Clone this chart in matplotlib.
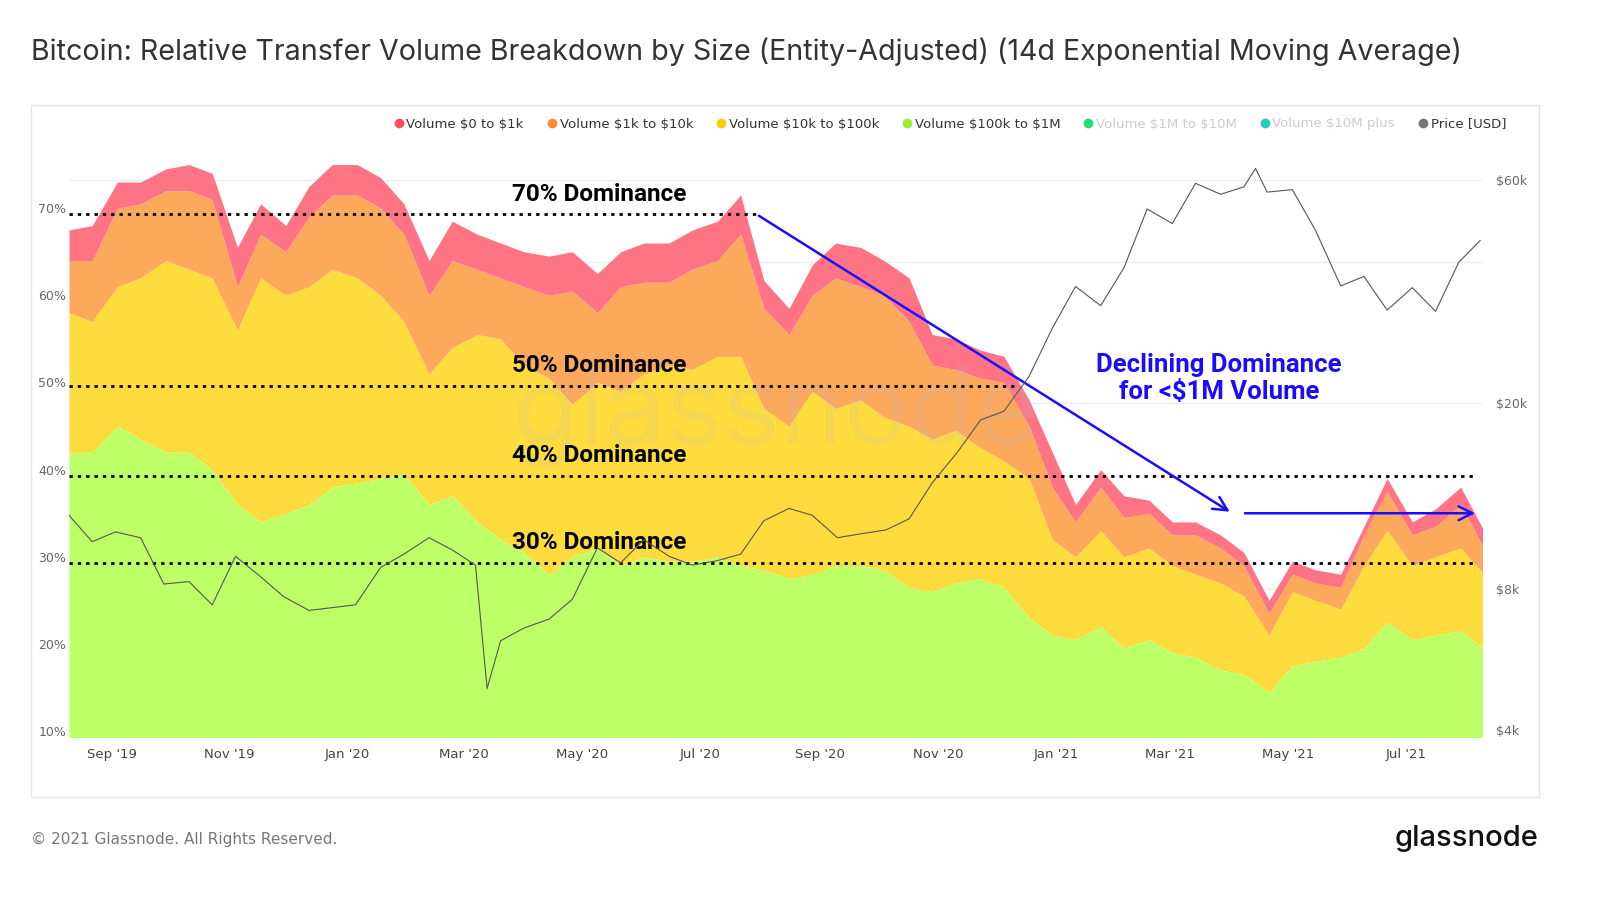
import numpy as np
import pandas as pd
import matplotlib.pyplot as plt
import matplotlib.dates as mdates
from matplotlib.lines import Line2D
from matplotlib.patches import Rectangle

# sample dates (about every 12.4 days)
start = pd.Timestamp('2019-08-10')
dates = [start + pd.Timedelta(days=round(12.39 * i)) for i in range(60)]

# cumulative tops of the stacked areas, in percent
green_top = [42, 42, 45, 43.5, 42, 42, 40, 36, 34, 35, 36, 38, 38.5, 39, 39.5, 36, 37, 34, 32, 30.5,
             28, 30, 31, 29, 30, 29.5, 29.5, 30, 29, 28.5, 27.5, 28, 29, 29, 28.5, 26.5, 26, 27, 27.5, 26.5,
             23, 21, 20.5, 22, 19.5, 20.5, 19, 18.5, 17, 16.5, 14.5, 17.5, 18, 18.5, 19.5, 22.5, 20.5, 21, 21.5, 19.5]
yellow_top = [58, 57, 61, 62, 64, 63, 62, 56, 62, 60, 61, 63, 62, 60, 57, 51, 54, 55.5, 55, 52,
              50.5, 47.5, 50, 49, 51, 52, 51.5, 53, 53, 47, 45, 49, 47, 48, 46, 45, 43.5, 44.5, 42.5, 41,
              39, 32, 30, 33, 30, 31, 29, 28, 27, 25.5, 21, 26, 25, 24, 29, 33, 29, 30, 31, 28]
orange_top = [64, 64, 70, 70.5, 72, 72, 71, 61, 67, 65, 69, 71.5, 71.5, 70, 67, 60, 64, 63, 62, 61,
              60, 60.5, 58, 61, 61.5, 61.5, 63, 64, 67, 58.5, 55.5, 60, 62, 61, 60, 57, 52, 51.5, 50.5, 50,
              45, 38, 34, 38, 34.5, 35, 32.5, 32.5, 31, 29, 23.5, 28, 27, 26.5, 32.5, 37.5, 32.5, 33.5, 36, 31]
red_top = [67.5, 68, 73, 73, 74.5, 75, 74, 65.5, 70.5, 68, 72.5, 75, 75, 73.5, 70.5, 64, 68.5, 67, 66, 65,
           64.5, 65, 62.5, 65, 66, 66, 67.5, 68.5, 71.5, 61.7, 58.5, 63.5, 66, 65.5, 64, 62, 55.5, 55, 53.7, 53,
           48, 42, 36, 40, 37, 36.5, 34, 34, 32.5, 30.5, 25, 29.5, 28.5, 28, 33.5, 39, 34, 35.5, 38, 33]

price_dates = pd.to_datetime([
    '2019-08-10', '2019-08-22', '2019-09-03', '2019-09-16', '2019-09-28', '2019-10-11', '2019-10-23',
    '2019-11-04', '2019-11-17', '2019-11-29', '2019-12-12', '2019-12-24', '2020-01-05', '2020-01-18',
    '2020-01-30', '2020-02-12', '2020-02-24', '2020-03-07', '2020-03-13', '2020-03-20', '2020-04-01',
    '2020-04-14', '2020-04-26', '2020-05-09', '2020-05-21', '2020-06-02', '2020-06-15', '2020-06-27',
    '2020-07-10', '2020-07-22', '2020-08-03', '2020-08-16', '2020-08-28', '2020-09-10', '2020-09-22',
    '2020-10-05', '2020-10-17', '2020-10-29', '2020-11-11', '2020-11-23', '2020-12-05', '2020-12-18',
    '2020-12-30', '2021-01-11', '2021-01-24', '2021-02-05', '2021-02-17', '2021-03-02', '2021-03-14',
    '2021-03-27', '2021-04-08', '2021-04-14', '2021-04-20', '2021-05-03', '2021-05-15', '2021-05-28',
    '2021-06-09', '2021-06-21', '2021-07-04', '2021-07-16', '2021-07-28', '2021-08-08'])
price = [11500, 10100, 10600, 10300, 8200, 8300, 7400, 9400, 8500, 7700, 7200, 7300, 7400, 8900,
         9500, 10300, 9700, 9000, 4900, 6200, 6600, 6900, 7600, 9800, 9100, 10200, 9400, 9000,
         9200, 9500, 11200, 11900, 11500, 10300, 10500, 10700, 11300, 13500, 15700, 18400, 19200, 22800,
         28900, 35500, 32300, 38900, 52000, 48400, 59000, 55900, 58000, 63500, 56500, 57200, 46800, 35600,
         37300, 31600, 35300, 31400, 40000, 44500]

bands = [
    (np.zeros(60), green_top, '#bdff66'),
    (green_top, yellow_top, '#ffdc3d'),
    (yellow_top, orange_top, '#fca95c'),
    (orange_top, red_top, '#ff7485'),
]


def px2date(px):
    return start + pd.Timedelta(days=(px - 69) / 1.937)


fig = plt.figure(figsize=(16, 9), dpi=100)
fig.patch.set_facecolor('white')
fig.patches.append(Rectangle((31 / 1600, 103 / 900), 1508 / 1600, 692 / 900, transform=fig.transFigure,
                             fill=False, edgecolor='#e4e4e4', lw=1))
fig.text(31 / 1600, 1 - 52 / 900, 'Bitcoin: Relative Transfer Volume Breakdown by Size (Entity-Adjusted) (14d Exponential Moving Average)',
         fontsize=20.6, color='#333333', va='center', family='Inter')

ax = fig.add_axes([69 / 1600, 163 / 900, 1413 / 1600, 616 / 900])
for lo, hi, col in bands:
    ax.fill_between(dates, lo, hi, color=col, lw=0, zorder=1)
ax.set_ylim(9.33, 80)
ax.set_xlim(start, pd.Timestamp('2021-08-09'))
ax.set_yticks([10, 20, 30, 40, 50, 60, 70])
ax.set_yticklabels([f'{v}%' for v in [10, 20, 30, 40, 50, 60, 70]])
ax.tick_params(axis='y', length=0, labelsize=9, colors='#666666', pad=2)
ax.xaxis.set_major_locator(mdates.MonthLocator(bymonth=[1, 3, 5, 7, 9, 11]))
ax.xaxis.set_major_formatter(mdates.DateFormatter("%b '%y"))
ax.tick_params(axis='x', length=0, labelsize=9.5, colors='#444444', pad=8)
for s in ax.spines.values():
    s.set_visible(False)

ax2 = ax.twinx()
ax2.set_yscale('log')
ax2.plot(price_dates, price, color='#555555', lw=0.8, zorder=3)
ax2.set_ylim(3860, 80200)
price_ticks = [4000, 8000, 20000, 40000, 60000]
ax2.set_yticks(price_ticks)
ax2.set_yticklabels(['\\$4k', '\\$8k', '\\$20k', '', '\\$60k'])
ax2.yaxis.set_minor_locator(plt.NullLocator())
ax2.tick_params(axis='y', length=0, labelsize=9, colors='#666666', pad=10)
for s in ax2.spines.values():
    s.set_visible(False)

# price gridlines drawn behind the areas on the left axis
fig.canvas.draw()
for p in price_ticks[1:]:
    disp = ax2.transData.transform((0, p))
    lvl = ax.transData.inverted().transform(disp)[1]
    ax.axhline(lvl, color='#eeeeee', lw=1, zorder=0)

ax.text(0.5, 0.52, 'glassnode', transform=ax.transAxes, fontsize=78, color='#bbbbbb', alpha=0.15,
        ha='center', va='center', zorder=2, family='Inter')

# annotation lines
ann = [(69.3, 757, '70% Dominance'), (49.6, 1020, '50% Dominance'),
       (39.3, 1478, '40% Dominance'), (29.3, 1478, '30% Dominance')]
for lvl, xend, txt in ann:
    ax.hlines(lvl, px2date(69), px2date(xend), colors='black', linestyles=(0, (1.2, 1.8)), lw=2, zorder=4)
    ax.text(px2date(600), lvl + 1.0, txt, fontsize=17.5, fontweight='bold', ha='center', va='bottom',
            zorder=5, family='Roboto')

blue = '#1a0dff'
ax.annotate('', xy=(px2date(1233), 35.0), xytext=(px2date(757), 69.3),
            arrowprops=dict(arrowstyle='->', color=blue, lw=1.8, mutation_scale=25), zorder=5)
ax.annotate('', xy=(px2date(1479), 35.0), xytext=(px2date(1243), 35.0),
            arrowprops=dict(arrowstyle='->', color=blue, lw=1.8, mutation_scale=25), zorder=5)
ax.text(px2date(1220), 50.5, 'Declining Dominance\nfor <$1M Volume', color=blue, fontsize=18.5,
        fontweight='bold', ha='center', va='center', linespacing=1.15, zorder=5, family='Roboto')

# legend
leg_items = [('Volume \\$0 to \\$1k', '#ff4d6a', '#333333'), ('Volume \\$1k to \\$10k', '#ff8a33', '#333333'),
             ('Volume \\$10k to \\$100k', '#ffcc00', '#333333'), ('Volume \\$100k to \\$1M', '#99ee33', '#333333'),
             ('Volume \\$1M to \\$10M', '#22dd77', '#cccccc'), ('Volume \\$10M plus', '#22ccbb', '#cccccc'),
             ('Price [USD]', '#777777', '#333333')]
handles = [Line2D([], [], ls='', marker='o', markersize=6, color=c) for _, c, _ in leg_items]
leg = fig.legend(handles, [n for n, _, _ in leg_items], loc='center right', bbox_to_anchor=(1518 / 1600, 1 - 124 / 900),
                 ncol=7, frameon=False, fontsize=9.5, handletextpad=0.1, columnspacing=1.6, handlelength=1)
for t, (_, _, tc) in zip(leg.get_texts(), leg_items):
    t.set_color(tc)

fig.text(31 / 1600, 1 - 839 / 900, '© 2021 Glassnode. All Rights Reserved.', fontsize=11, color='#777777', va='center')
fig.text(1539 / 1600, 1 - 839 / 900, 'glassnode', fontsize=21, color='#111111', ha='right', va='center',
         family='Inter', fontweight='medium')

fig.savefig('out.png', dpi=100)
